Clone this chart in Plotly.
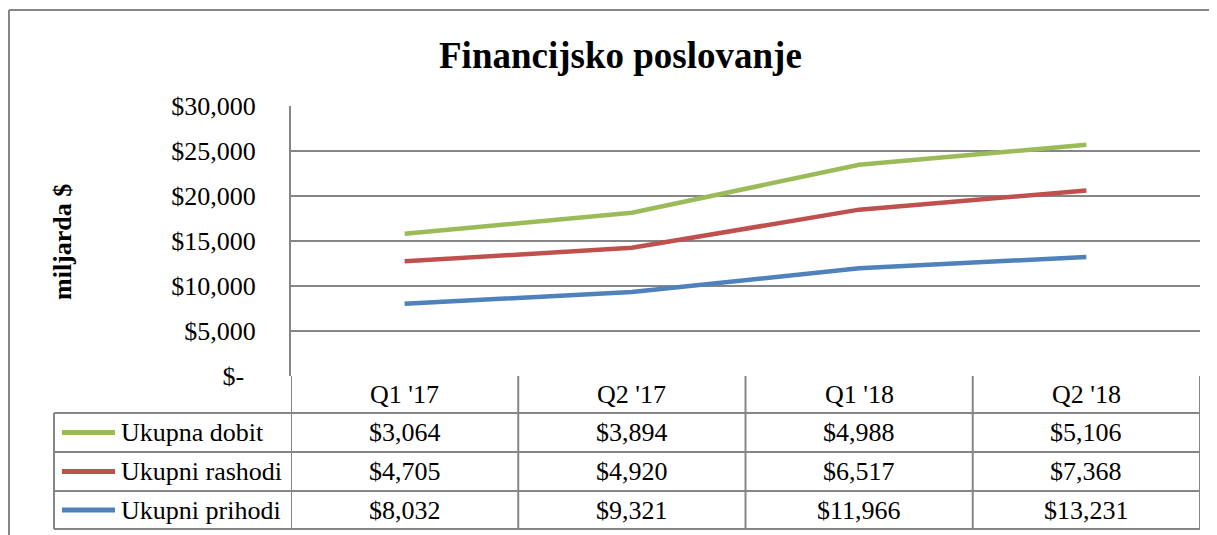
import plotly.graph_objects as go

# ---- data ----
categories = ["Q1 '17", "Q2 '17", "Q1 '18", "Q2 '18"]
series_names = ["Ukupna dobit", "Ukupni rashodi", "Ukupni prihodi"]
ukupna_dobit = [3064, 3894, 4988, 5106]
ukupni_rashodi = [4705, 4920, 6517, 7368]
ukupni_prihodi = [8032, 9321, 11966, 13231]
y_tick_vals = [0, 5000, 10000, 15000, 20000, 25000, 30000]
y_tick_text = ["$-\u00a0\u2009", "$5,000", "$10,000", "$15,000", "$20,000", "$25,000", "$30,000"]
title_text = "Financijsko poslovanje"
y_title = "miljarda $"

colors = {"Ukupna dobit": "#9BBB59", "Ukupni rashodi": "#C0504D", "Ukupni prihodi": "#4F81BD"}
values = {"Ukupna dobit": ukupna_dobit, "Ukupni rashodi": ukupni_rashodi, "Ukupni prihodi": ukupni_prihodi}

# ---- geometry (reference-window pixel coordinates) ----
WIN_W, WIN_H = 1217, 535
OFF = 8  # page body margin
W, H = WIN_W - OFF, WIN_H - OFF
L, R, T, B = 291, 1200, 106, 376
FONT = "Times New Roman, Liberation Serif, serif"
GRID = "#868686"


def px(xp):
    return (xp - L) / (R - L)


def py(yp):
    return (B - yp) / (B - T)


fig = go.Figure()
# stacked line chart: bottom first
for name in ["Ukupni prihodi", "Ukupni rashodi", "Ukupna dobit"]:
    fig.add_trace(go.Scatter(
        x=categories, y=values[name], name=name, mode="lines",
        stackgroup="one", fill="none",
        line=dict(color=colors[name], width=4.5),
        hoverinfo="skip", showlegend=False,
    ))

shapes = []
annotations = []

# outer chart border (left and top)
shapes.append(dict(type="line", xref="paper", yref="paper", x0=px(9), x1=px(9), y0=py(10), y1=py(WIN_H + 5),
                   line=dict(color=GRID, width=2)))
shapes.append(dict(type="line", xref="paper", yref="paper", x0=px(9), x1=px(WIN_W + 5), y0=py(10), y1=py(10),
                   line=dict(color=GRID, width=2)))

# data table grid
row_lines = [413, 452, 491, 529]
for yl in row_lines:
    shapes.append(dict(type="line", xref="paper", yref="paper", x0=px(54), x1=px(R), y0=py(yl), y1=py(yl),
                       line=dict(color=GRID, width=2)))
# left border of legend column
shapes.append(dict(type="line", xref="paper", yref="paper", x0=px(54), x1=px(54), y0=py(413), y1=py(529),
                   line=dict(color=GRID, width=2)))
# column dividers (category boundaries)
n = len(categories)
for i in range(n + 1):
    shapes.append(dict(type="line", xref="x", yref="paper", x0=i - 0.5, x1=i - 0.5, y0=py(B), y1=py(529),
                       line=dict(color=GRID, width=2)))

# header row category labels
for c in categories:
    annotations.append(dict(x=c, xref="x", y=py((B + 413) / 2), yref="paper", text=c, showarrow=False,
                            font=dict(family=FONT, size=26, color="black"), yanchor="middle"))

# data rows
row_centers = [(row_lines[k] + row_lines[k + 1]) / 2 for k in range(3)]
for k, name in enumerate(series_names):
    yc = py(row_centers[k])
    shapes.append(dict(type="line", xref="paper", yref="paper", x0=px(62), x1=px(115), y0=yc, y1=yc,
                       line=dict(color=colors[name], width=5)))
    annotations.append(dict(x=px(119), xref="paper", y=yc, yref="paper", text=name, showarrow=False,
                            xanchor="left", yanchor="middle", font=dict(family=FONT, size=26, color="black")))
    for c, v in zip(categories, values[name]):
        annotations.append(dict(x=c, xref="x", y=yc, yref="paper", text=f"${v:,}", showarrow=False,
                                yanchor="middle", font=dict(family=FONT, size=26, color="black")))

# title
annotations.append(dict(x=px(620), xref="paper", y=py(55), yref="paper", text=f"<b>{title_text}</b>",
                        showarrow=False, yanchor="middle", font=dict(family=FONT, size=37, color="black")))
# y-axis title
annotations.append(dict(x=px(62), xref="paper", y=py(242), yref="paper", text=f"<b>{y_title}</b>",
                        showarrow=False, textangle=-90, xanchor="center", yanchor="middle",
                        font=dict(family=FONT, size=26, color="black")))

fig.update_layout(
    width=W, height=H,
    margin=dict(l=L - OFF, r=WIN_W - R, t=T - OFF, b=WIN_H - B, pad=0),
    paper_bgcolor="white", plot_bgcolor="white",
    showlegend=False,
    shapes=shapes, annotations=annotations,
    xaxis=dict(type="category", range=[-0.5, n - 0.5], showticklabels=False, showgrid=False,
               zeroline=False, showline=False, ticks=""),
    yaxis=dict(range=[0, 30000], tickvals=y_tick_vals, ticktext=y_tick_text, showgrid=True,
               gridcolor=GRID, gridwidth=2, zeroline=False, showline=True, linecolor=GRID, linewidth=2,
               ticks="", ticklabelstandoff=28,
               tickfont=dict(family=FONT, size=26, color="black")),
)

fig.write_html("out.html")
